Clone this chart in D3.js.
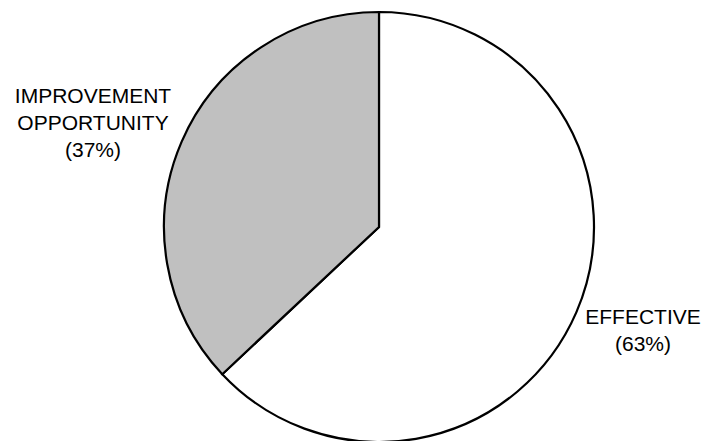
<!DOCTYPE html>
<html>
<head>
<meta charset="utf-8">
<script src="https://cdn.jsdelivr.net/npm/d3@7"></script>
<style>
  html, body { margin: 0; padding: 0; background: #fff; }
  svg { display: block; }
</style>
</head>
<body>
<svg id="chart" width="704" height="441"></svg>
<script>
const categories = ["EFFECTIVE", "IMPROVEMENT OPPORTUNITY"];
const values = [63, 37];
const labelLines = [["EFFECTIVE", "(63%)"], ["IMPROVEMENT", "OPPORTUNITY", "(37%)"]];
const colors = ["#ffffff", "#c0c0c0"];

const svg = d3.select("#chart");
const cx = 379, cy = 227, r = 215;

const pie = d3.pie().sort(null).value(d => d)(values);
const arc = d3.arc().innerRadius(0).outerRadius(r);

const g = svg.append("g").attr("transform", `translate(${cx},${cy})`);
g.selectAll("path").data(pie).join("path")
  .attr("d", arc)
  .attr("fill", (d, i) => colors[i])
  .attr("stroke", "#000")
  .attr("stroke-width", 2.2)
  .attr("stroke-linejoin", "miter");

// labels
const labelPos = [
  { x: 643, y: 324 },
  { x: 93, y: 103 }
];
const lh = 27;
labelLines.forEach((lines, i) => {
  const t = svg.append("text")
    .attr("text-anchor", "middle")
    .attr("font-family", "Liberation Sans, Arial, sans-serif")
    .attr("font-size", 21)
    .attr("fill", "#000");
  lines.forEach((ln, j) => {
    t.append("tspan").attr("x", labelPos[i].x).attr("y", labelPos[i].y + j * lh).text(ln);
  });
});
</script>
</body>
</html>
